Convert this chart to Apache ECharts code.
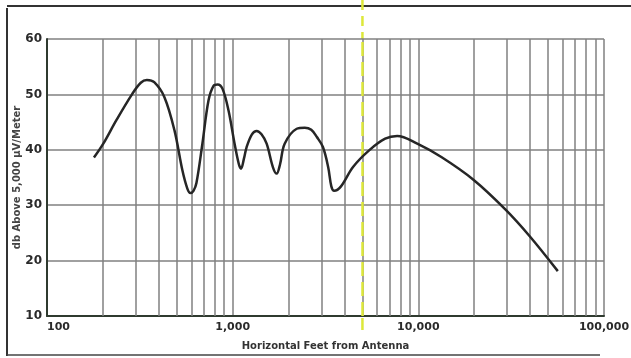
<!DOCTYPE html>
<html>
<head>
<meta charset="utf-8">
<script src="https://cdn.jsdelivr.net/npm/echarts@6/dist/echarts.min.js"></script>
<style>
  html, body { margin: 0; padding: 0; background: #fff; }
  #main { width: 631px; height: 358px; }
</style>
</head>
<body>
<div id="main"></div>
<script>
// feet from antenna
var feet = [179, 201, 236, 288, 320, 345, 378, 429, 486, 536, 570, 592, 615, 638, 687, 741, 790, 830, 882, 950,
    1024, 1080, 1110, 1150, 1189, 1270, 1346, 1430, 1524, 1650, 1726, 1800, 1906, 2213, 2446, 2650, 2842, 3063, 3268, 3400, 3520, 3832,
    4449, 5431, 6627, 7693, 9863, 13300, 19800, 29500, 39800, 56400];
// field strength, db above 5,000 uV/m
var db = [38.6, 41.1, 45.3, 50.1, 52.1, 52.6, 52.2, 49.5, 43.5, 36.3, 33.0, 32.2, 32.6, 34.0, 41.1, 48.9, 51.6, 51.8, 51.0, 47.1,
    41.1, 37.4, 36.6, 38.4, 40.5, 42.8, 43.4, 42.8, 41.1, 36.8, 35.7, 37.4, 41.1, 43.8, 44.0, 43.6, 42.3, 40.5, 36.9, 33.4, 32.6, 33.4,
    36.9, 39.9, 42.0, 42.5, 41.1, 38.7, 34.6, 29.2, 24.4, 18.1];
// log-paper grid lines between the decades
var minorLines = [200, 300, 400, 500, 600, 700, 800, 900,
    2000, 3000, 4000, 5000, 6000, 7000, 8000, 9000,
    20000, 30000, 40000, 50000, 60000, 70000, 80000, 90000];
var yTicks = [10, 20, 30, 40, 50, 60];

var chart = echarts.init(document.getElementById('main'));
var font = 'DejaVu Sans';
var points = feet.map(function (f, i) { return [f, db[i]]; });

var option = {
    backgroundColor: '#fff',
    animation: false,
    grid: { left: 47, right: 27, top: 39, bottom: 42, outerBoundsMode: 'none', containLabel: false },
    xAxis: {
        type: 'log',
        logBase: 10,
        min: 100,
        max: 100000,
        name: 'Horizontal Feet from Antenna',
        nameLocation: 'middle',
        nameGap: 25,
        nameTextStyle: { fontFamily: font, fontWeight: 'bold', fontSize: 10, color: '#333' },
        axisLine: { lineStyle: { color: '#2f3a2f', width: 2 } },
        axisTick: { show: false },
        axisLabel: {
            fontFamily: font, fontWeight: 'bold', fontSize: 11, color: '#2a2a2a', margin: 6,
            formatter: function (v) { return v.toLocaleString('en-US'); },
            alignMinLabel: 'left'
        },
        splitLine: { show: true, lineStyle: { color: '#808080', width: 1.5 } }
    },
    yAxis: {
        type: 'value',
        min: yTicks[0],
        max: yTicks[yTicks.length - 1],
        interval: 10,
        name: 'db Above 5,000 \u00b5V/Meter',
        nameLocation: 'middle',
        nameGap: 25,
        nameMoveOverlap: false,
        nameTextStyle: { fontFamily: font, fontWeight: 'bold', fontSize: 10, color: '#444' },
        axisLine: { show: true, lineStyle: { color: '#2f3a2f', width: 2 } },
        axisTick: { show: false },
        axisLabel: { fontFamily: font, fontWeight: 'bold', fontSize: 12, color: '#2a2a2a', margin: 5 },
        splitLine: { show: true, lineStyle: { color: '#808080', width: 1.5 } }
    },
    series: [
        {
            type: 'line',
            data: points,
            smooth: 0.35,
            showSymbol: false,
            lineStyle: { color: '#262626', width: 2.5 },
            markLine: {
                silent: true,
                symbol: 'none',
                label: { show: false },
                lineStyle: { color: '#808080', width: 1.5, type: 'solid' },
                data: minorLines.map(function (v) { return { xAxis: v }; })
            },
            z: 5
        },
        {
            type: 'line',
            data: [],
            markLine: {
                silent: true,
                symbol: 'none',
                label: { show: false },
                lineStyle: { color: '#dde83a', width: 2.5, type: [14, 6] },
                data: [{ xAxis: 5000 }]
            },
            z: 4
        }
    ],
    graphic: [
        { type: 'line', shape: { x1: 7, y1: 8, x2: 7, y2: 356 }, style: { stroke: '#333', lineWidth: 2 } },
        { type: 'line', shape: { x1: 7, y1: 6, x2: 631, y2: 6 }, style: { stroke: '#333', lineWidth: 2 } },
        { type: 'line', shape: { x1: 7, y1: 355, x2: 600, y2: 355 }, style: { stroke: '#444', lineWidth: 1.5 } }
    ]
};
chart.setOption(option);

// carry the yellow dash past the plot frame, like the scan
var xp = chart.convertToPixel({ xAxisIndex: 0 }, 5000);
chart.setOption({
    graphic: option.graphic.concat([
        { type: 'line', shape: { x1: xp, y1: 0, x2: xp, y2: 39 }, style: { stroke: '#dde83a', lineWidth: 2.5, lineDash: [10, 6] } },
        { type: 'line', shape: { x1: xp, y1: 318, x2: xp, y2: 330 }, style: { stroke: '#dde83a', lineWidth: 2.5 } }
    ])
});
</script>
</body>
</html>
